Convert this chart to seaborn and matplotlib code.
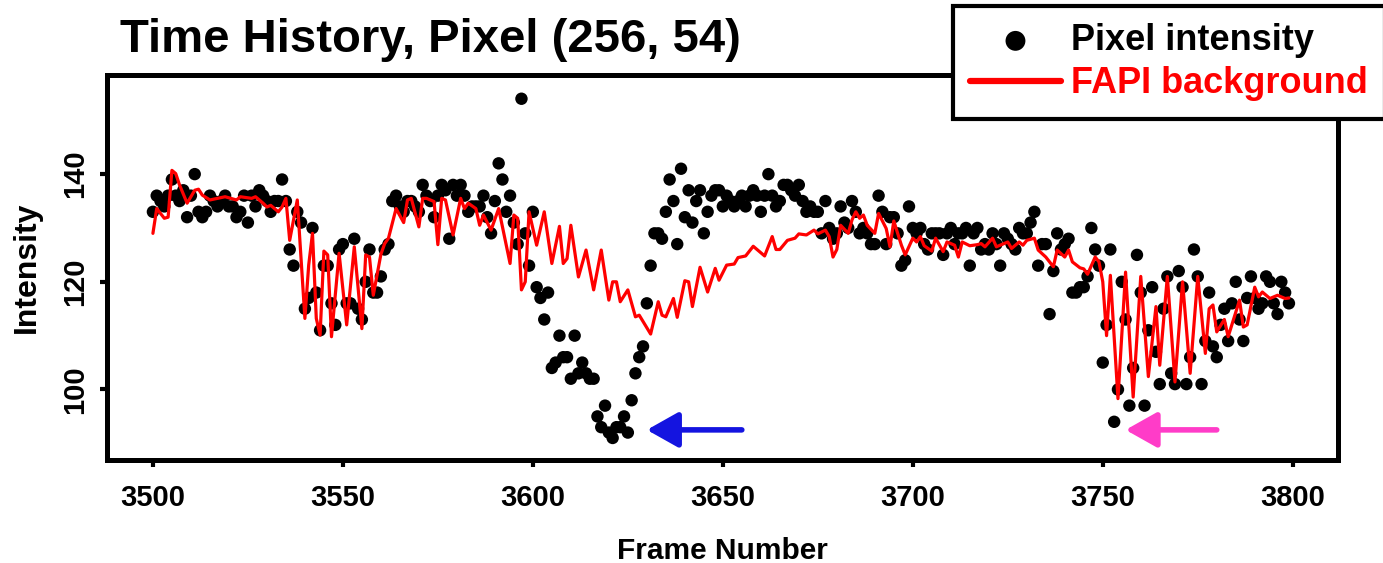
import matplotlib
matplotlib.use('Agg')
import matplotlib.pyplot as plt
import pandas as pd
import seaborn as sns

# pixel intensity, one value per frame starting at 3500
first_frame = 3500
pix_3500 = [133, 136, 135, 134, 136, 139, 136, 135, 137, 132, 136, 140, 133, 132, 133, 136,
            135, 134, 135, 136, 134, 134, 132, 133, 136, 131, 136, 134, 137, 136, 135, 133,
            135, 135, 139, 135, 126, 123, 133, 131, 115, 117, 130, 118, 111, 123, 123, 116,
            112, 126, 127, 116, 116, 128, 115, 113, 120, 126, 118, 118, 121, 126, 127]
pix_3563 = [135, 136, 134, 133, 135, 135, 134, 133, 138, 136, 135, 132, 136, 138, 137, 128,
            138, 136, 138, 136, 133, 134, 134, 134, 136, 132, 129, 135, 142, 139, 133, 136,
            131, 127, 154, 129, 123, 133, 119, 117, 113, 118, 104, 105, 110, 106, 106, 102,
            110, 103, 105, 103, 102, 102, 95, 93, 97, 92, 91, 93, 93, 95, 92, 98, 103, 106]
pix_3629 = [108, 116, 123, 129, 129, 128, 133, 139, 135, 127, 141, 132, 137, 131, 135, 137,
            129, 133, 136, 137, 137, 134, 136, 135, 134, 135, 136, 134, 136, 137, 136, 133,
            136, 140, 136, 134, 135, 138, 138, 137, 136, 138, 135, 133, 134, 133, 133, 129,
            135, 130, 128, 129, 134, 131, 130, 135, 133, 129, 130, 129, 127, 127, 136]
pix_3692 = [133, 127, 132, 132, 129, 123, 124, 134, 130, 129, 130, 127, 126, 129, 129, 129,
            125, 129, 130, 127, 129, 129, 130, 123, 129, 130, 126, 127, 126, 129, 127, 123,
            129, 128, 127, 126, 130, 129, 129, 131, 133, 123, 127, 127, 114, 122, 129, 126,
            127, 128, 118, 118, 119, 119, 121, 130, 126, 123]
pix_3750 = [105, 112, 126, 94, 100, 120, 113, 97, 104, 125, 118, 97, 111, 119, 107, 101,
            115, 121, 103, 101, 122, 119, 101, 106, 126, 121, 101, 109, 118, 108, 106, 112,
            115, 109, 116, 120, 113, 109, 117, 121, 117, 115, 116, 121, 120, 116, 114, 120,
            118, 116]

# FAPI background curve
bg_frames = [3500, 3501, 3503, 3504, 3505, 3506, 3507, 3509, 3511, 3512,
             3513, 3515, 3517, 3519, 3522, 3523, 3526, 3527, 3529, 3530,
             3531, 3533, 3534, 3535, 3536, 3538, 3540, 3541, 3542, 3543,
             3544, 3545, 3546, 3547, 3549, 3551, 3553, 3555, 3556, 3557,
             3558, 3560, 3561, 3562, 3564, 3566, 3567, 3568, 3570, 3571,
             3572, 3574, 3575, 3576, 3577, 3579, 3581, 3582, 3583, 3585,
             3586, 3587, 3589, 3591, 3592, 3594, 3595, 3596, 3597, 3598,
             3599, 3601, 3603, 3605, 3607, 3608, 3609, 3610, 3612, 3614,
             3616, 3618, 3620, 3621, 3622, 3623, 3625, 3627, 3628, 3631,
             3633, 3634, 3635, 3637, 3638, 3640, 3641, 3642, 3644, 3646,
             3648, 3649, 3651, 3653, 3654, 3656, 3658, 3661, 3663, 3664,
             3665, 3667, 3669, 3670, 3672, 3674, 3675, 3677, 3678, 3679,
             3680, 3681, 3683, 3684, 3685, 3686, 3687, 3688, 3690, 3691,
             3693, 3694, 3695, 3697, 3698, 3700, 3701, 3702, 3703, 3705,
             3706, 3708, 3709, 3711, 3712, 3713, 3715, 3717, 3718, 3719,
             3721, 3722, 3724, 3725, 3726, 3728, 3729, 3730, 3732, 3733,
             3735, 3737, 3738, 3740, 3741, 3742, 3744, 3745, 3746, 3748,
             3749, 3750, 3751, 3752, 3754, 3756, 3758, 3760, 3762, 3764,
             3765, 3767, 3769, 3771, 3773, 3775, 3777, 3778, 3779, 3780,
             3782, 3783, 3786, 3787, 3788, 3790, 3791, 3792, 3794, 3796,
             3798, 3799]
bg_values = [129, 133.6, 131.8, 132, 140.7, 140.1, 138, 134.6, 137, 137.2,
             136.1, 135.2, 135.5, 135.8, 135.2, 135.8, 135.5, 135.8, 134.6, 133.9,
             134.2, 133, 133.9, 135.5, 127.7, 135.2, 113.2, 123.1, 129, 113.2,
             110.1, 125.7, 125, 109.8, 125.3, 112, 126.5, 111.3, 125, 124.6,
             117.5, 125.1, 127.1, 128.1, 133.6, 131, 135.2, 135.5, 130.2, 135.5,
             135.5, 134.9, 126.9, 135.5, 135.2, 128.7, 135.5, 133.6, 134.6, 133.6,
             130.5, 132.4, 129.6, 133.6, 130.2, 123.4, 132.4, 131.8, 118.5, 120,
             133, 126.8, 133, 123.4, 130.3, 123.4, 124.3, 130.5, 120.9, 125.9,
             118.5, 125.9, 116.6, 120, 120, 116.3, 118.5, 113.5, 113.8, 110.3,
             116.3, 113.8, 113.5, 116.9, 113.4, 120.2, 120, 115.4, 122.7, 118.1,
             122.5, 120.3, 123.1, 123.3, 124.5, 124.8, 126.6, 124.8, 128.4, 126,
             126, 127.7, 128.1, 128.9, 128.7, 129.6, 128.9, 129.6, 128.4, 124.6,
             126, 130.5, 129, 131.5, 133, 131.8, 132.4, 130.5, 129, 132.7,
             129.9, 126.5, 131.3, 126.8, 125, 128.1, 127.4, 128.4, 126.7, 125.7,
             128.1, 125.6, 127.4, 126.8, 124.6, 127.4, 126.7, 126.9, 127.1, 126.5,
             128.1, 126.5, 127.1, 127.4, 126.2, 127.4, 126.8, 127.7, 128.1, 125.9,
             124.6, 122.8, 125.9, 124.6, 125.9, 123.7, 122.6, 122.4, 121.4, 124.6,
             123.7, 120, 110, 121.2, 98.3, 121.8, 98.6, 121, 102.4, 115.4,
             104.5, 121, 101.4, 120, 103, 121, 106.7, 115, 115.7, 110.7,
             113, 109.8, 116.6, 111.6, 112, 119, 117.2, 118.1, 116.9, 117.5,
             116.9, 117]

# arrows: (tail frame, head frame, intensity)
blue_arrow = (3655, 3630, 92.5)
pink_arrow = (3780, 3756, 92.5)

intensity = pix_3500 + pix_3563 + pix_3629 + pix_3692 + pix_3750
pix = pd.DataFrame({'frame': range(first_frame, first_frame + len(intensity)),
                    'intensity': intensity})
bg = pd.DataFrame({'frame': bg_frames, 'background': bg_values})

sns.set_style('ticks')
plt.rcParams['font.family'] = ['Liberation Sans', 'DejaVu Sans']
plt.rcParams['font.weight'] = 'bold'
for key in ['text.color', 'axes.labelcolor', 'xtick.color', 'ytick.color', 'axes.edgecolor']:
    plt.rcParams[key] = 'black'

fig = plt.figure(figsize=(13.83, 5.63), dpi=100)
ax = fig.add_axes([0.0776, 0.1829, 0.8901, 0.6838])

sns.scatterplot(data=pix, x='frame', y='intensity', color='black', s=80,
                edgecolor='none', ax=ax, zorder=2, label='Pixel intensity')
sns.lineplot(data=bg, x='frame', y='background', color='#ff0000', lw=2.3,
             ax=ax, zorder=3, label='FAPI background')

for (tail, head, y), col in [(blue_arrow, '#1414e0'), (pink_arrow, '#ff3cc8')]:
    ax.annotate('', xy=(head, y), xytext=(tail, y),
                arrowprops=dict(arrowstyle='-|>,head_length=0.8,head_width=0.45',
                                color=col, lw=4, mutation_scale=24,
                                shrinkA=0, shrinkB=0))

ax.set_xlim(3488, 3812)
ax.set_ylim(86.9, 158.4)
ax.set_xticks(range(3500, 3801, 50))
ax.set_yticks([100, 120, 140])
ax.tick_params(direction='out', length=5, width=3, labelsize=21, color='black',
               labelcolor='black')
ax.tick_params(axis='x', pad=12)
ax.tick_params(axis='y', labelrotation=90, pad=8)
for lbl in ax.get_yticklabels():
    lbl.set_va('center')
for s in ax.spines.values():
    s.set_linewidth(3.6)
    s.set_color('black')

ax.set_xlabel('Frame Number', fontsize=21.5, fontweight='bold', labelpad=18)
ax.set_ylabel('Intensity', fontsize=23, fontweight='bold', labelpad=14)

fig.text(120 / 1383, 1 - 40 / 563, 'Time History, Pixel (256, 54)',
         fontsize=34, fontweight='bold', va='center', ha='left', color='black')

handles, labels = ax.get_legend_handles_labels()
leg = ax.legend(handles, labels, loc='upper left',
                bbox_to_anchor=(953 / 1383, 1 - 6 / 563), bbox_transform=fig.transFigure,
                prop={'size': 26, 'weight': 'bold'}, frameon=True, fancybox=False,
                edgecolor='black', framealpha=1, borderpad=0.48, handlelength=2.5,
                handletextpad=0.28, labelspacing=0.22, markerscale=1.6, borderaxespad=0)
leg.get_frame().set_linewidth(3)
leg.get_lines()[0].set_linewidth(4.5)
leg.get_texts()[0].set_color('black')
leg.get_texts()[1].set_color('#ff0000')

fig.savefig('out.png', dpi=100)
